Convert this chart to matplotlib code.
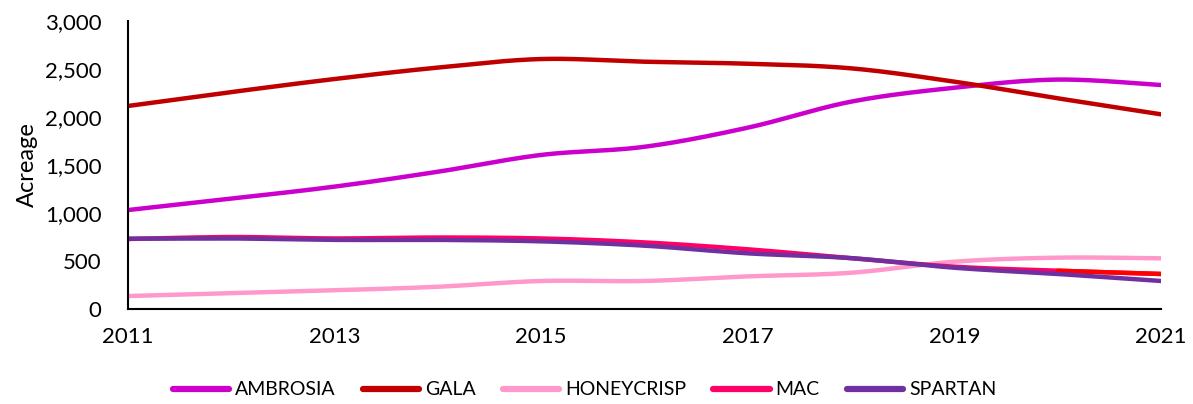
import numpy as np
import matplotlib
matplotlib.use('Agg')
import matplotlib.pyplot as plt
from matplotlib.lines import Line2D

plt.rcParams['font.family'] = ['Lato', 'DejaVu Sans']

years = [2011, 2012, 2013, 2014, 2015, 2016, 2017, 2018, 2019, 2020, 2021]
ambrosia = [1031, 1150, 1275, 1430, 1605, 1690, 1889, 2160, 2305, 2390, 2333]
gala = [2115, 2260, 2396, 2515, 2604, 2576, 2555, 2507, 2368, 2195, 2028]
honeycrisp = [135, 165, 195, 232, 292, 292, 340, 378, 493, 535, 528]
mac = [729, 750, 735, 745, 735, 694, 622, 530, 441, 399, 365]
spartan = [733, 735, 720, 720, 705, 660, 580, 530, 430, 365, 292]

series = [
    ("AMBROSIA", ambrosia, "#CC00CC"),
    ("GALA", gala, "#C00000"),
    ("HONEYCRISP", honeycrisp, "#FF99CC"),
    ("MAC", mac, "#FF0066"),
    ("SPARTAN", spartan, "#7030A0"),
]
MAC_LAST_SEGMENT = "#FF0000"


def smooth(xs, ys, n=40):
    """Excel-style smoothed line: cubic Bezier through the points."""
    x = np.asarray(xs, float)
    y = np.asarray(ys, float)
    px = np.concatenate([[x[0]], x, [x[-1]]])
    py = np.concatenate([[y[0]], y, [y[-1]]])
    out_x, out_y = [], []
    t = np.linspace(0, 1, n)
    for i in range(1, len(px) - 2):
        p0 = np.array([px[i], py[i]])
        p3 = np.array([px[i + 1], py[i + 1]])
        c1 = p0 + (np.array([px[i + 1], py[i + 1]]) - np.array([px[i - 1], py[i - 1]])) / 6
        c2 = p3 - (np.array([px[i + 2], py[i + 2]]) - np.array([px[i], py[i]])) / 6
        b = ((1 - t) ** 3)[:, None] * p0 + (3 * (1 - t) ** 2 * t)[:, None] * c1 \
            + (3 * (1 - t) * t ** 2)[:, None] * c2 + (t ** 3)[:, None] * p3
        out_x.extend(b[:, 0])
        out_y.extend(b[:, 1])
    return np.array(out_x), np.array(out_y)


fig = plt.figure(figsize=(11.93, 4.04), dpi=100)
ax = fig.add_axes([0.1073, 0.2351, 0.8659, 0.7129])

handles = []
for name, vals, color in series:
    sx, sy = smooth(years, vals)
    ax.plot(sx, sy, color=color, lw=3.2, solid_capstyle='round')
    if name == "MAC":
        mask = sx >= years[-2]
        ax.plot(sx[mask], sy[mask], color=MAC_LAST_SEGMENT, lw=3.2, solid_capstyle='round')
    handles.append(Line2D([], [], color=color, lw=4.5, solid_capstyle='round', label=name))

ax.set_xlim(2011, 2021)
ax.set_ylim(0, 3000)
ax.set_xticks(years[::2])
ax.set_yticks(range(0, 3001, 500))
ax.set_yticklabels([f"{v:,}" for v in range(0, 3001, 500)])
ax.tick_params(axis='both', length=0, labelsize=16, colors='black')
ax.tick_params(axis='y', pad=19)
ax.tick_params(axis='x', pad=13)
for s in ['top', 'right']:
    ax.spines[s].set_visible(False)
for s in ['left', 'bottom']:
    ax.spines[s].set_linewidth(1.5)
    ax.spines[s].set_color('black')
ax.set_ylabel("Acreage", fontsize=17, labelpad=5)

fig.legend(handles=handles, loc='center', bbox_to_anchor=(0.49, 0.035), ncol=5,
           frameon=False, fontsize=14, handlelength=2.9, handletextpad=0.3,
           columnspacing=1.4)

fig.savefig("out.png", dpi=100)
